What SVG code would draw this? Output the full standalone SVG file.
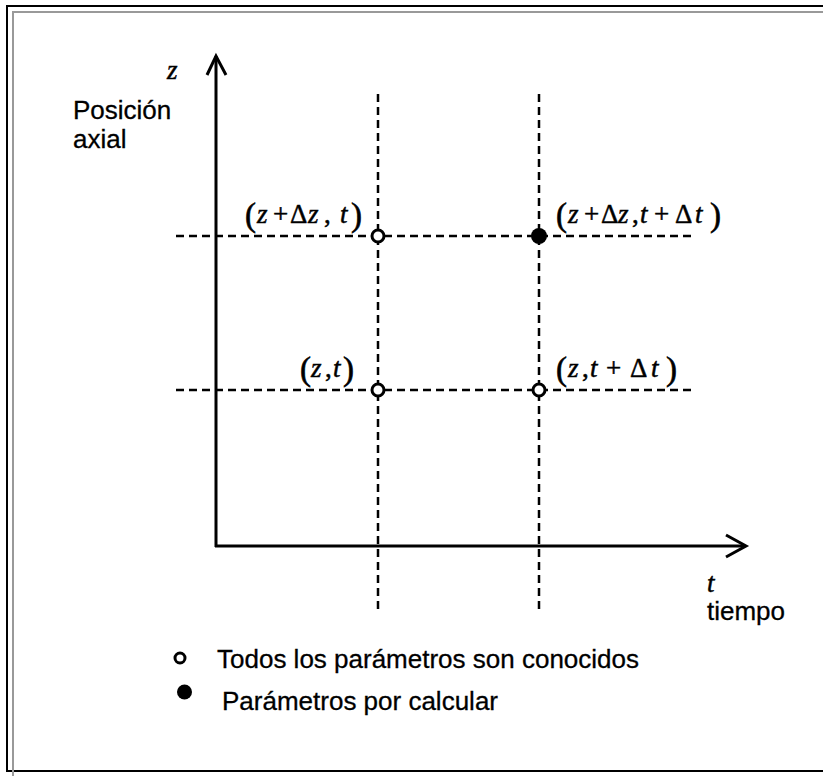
<svg xmlns="http://www.w3.org/2000/svg" width="823" height="776" viewBox="0 0 823 776">
<style>
.ax{stroke:#000;stroke-width:3;fill:none}
.dash{stroke:#000;stroke-width:2.5;stroke-dasharray:8,5;fill:none}
.math{font-family:"Liberation Serif",serif;font-size:27px;fill:#000;stroke:#000;stroke-width:0.5}
.par{font-size:33px;stroke-width:0.6}
.it{font-style:italic}
.lbl{font-family:"Liberation Sans",Arial,sans-serif;font-size:26px;fill:#000;stroke:#000;stroke-width:0.3}
.open{fill:#fff;stroke:#000;stroke-width:3}
.fill{fill:#000}
</style>
<rect x="7" y="6" width="830" height="765" fill="#fff" stroke="#000" stroke-width="2"/>
<path d="M13,776 V12 H823" fill="none" stroke="#999" stroke-width="2"/>
<g id="connectors">
<path class="ax" d="M216,547 V56"/>
<path class="ax" d="M207,75 L216,56 L226,75"/>
<path class="ax" d="M215,546 H745"/>
<path class="ax" d="M726,535 L746,546 L726,557"/>
<path class="dash" d="M378,94 V612"/>
<path class="dash" d="M539,94 V612"/>
<path class="dash" d="M176,236 H692"/>
<path class="dash" d="M176,390 H695"/>
</g>
<g id="axis-z">
<text class="math it" x="167" y="79">z</text>
<text class="lbl" x="73" y="119">Posición</text>
<text class="lbl" x="73" y="148">axial</text>
</g>
<g id="axis-t">
<text class="math it" x="707" y="592">t</text>
<text class="lbl" x="707" y="620" font-size="28">tiempo</text>
</g>
<g id="node-z-dz-t">
<circle class="open" cx="378" cy="236" r="6"/>
<text class="math par" x="245" y="226">(</text>
<text class="math"><tspan class="it" x="257" y="223">z</tspan><tspan x="273">+</tspan><tspan x="290">Δ</tspan><tspan class="it" x="308">z</tspan><tspan x="324">,</tspan><tspan class="it" x="340">t</tspan></text>
<text class="math par" x="351" y="226">)</text>
</g>
<g id="node-z-dz-t-dt">
<circle class="fill" cx="539" cy="236" r="8"/>
<text class="math par" x="556" y="226">(</text>
<text class="math"><tspan class="it" x="568" y="223">z</tspan><tspan x="584">+</tspan><tspan x="601">Δ</tspan><tspan class="it" x="618">z</tspan><tspan x="632">,</tspan><tspan class="it" x="640">t</tspan><tspan x="654">+</tspan><tspan x="675">Δ</tspan><tspan class="it" x="695">t</tspan></text>
<text class="math par" x="710" y="226">)</text>
</g>
<g id="node-z-t">
<circle class="open" cx="378" cy="390" r="6"/>
<text class="math par" x="300" y="380">(</text>
<text class="math"><tspan class="it" x="311" y="377">z</tspan><tspan x="325">,</tspan><tspan class="it" x="333">t</tspan></text>
<text class="math par" x="343" y="380">)</text>
</g>
<g id="node-z-t-dt">
<circle class="open" cx="539" cy="390" r="6"/>
<text class="math par" x="556" y="380">(</text>
<text class="math"><tspan class="it" x="568" y="377">z</tspan><tspan x="582">,</tspan><tspan class="it" x="590">t</tspan><tspan x="606">+</tspan><tspan x="630">Δ</tspan><tspan class="it" x="651">t</tspan></text>
<text class="math par" x="666" y="380">)</text>
</g>
<g id="legend">
<circle class="open" cx="180" cy="658" r="5" stroke-width="2.5"/>
<text class="lbl" x="217" y="668">Todos los parámetros son conocidos</text>
<circle class="fill" cx="184.5" cy="692" r="7.5"/>
<text class="lbl" x="222" y="710">Parámetros por calcular</text>
</g>
</svg>
